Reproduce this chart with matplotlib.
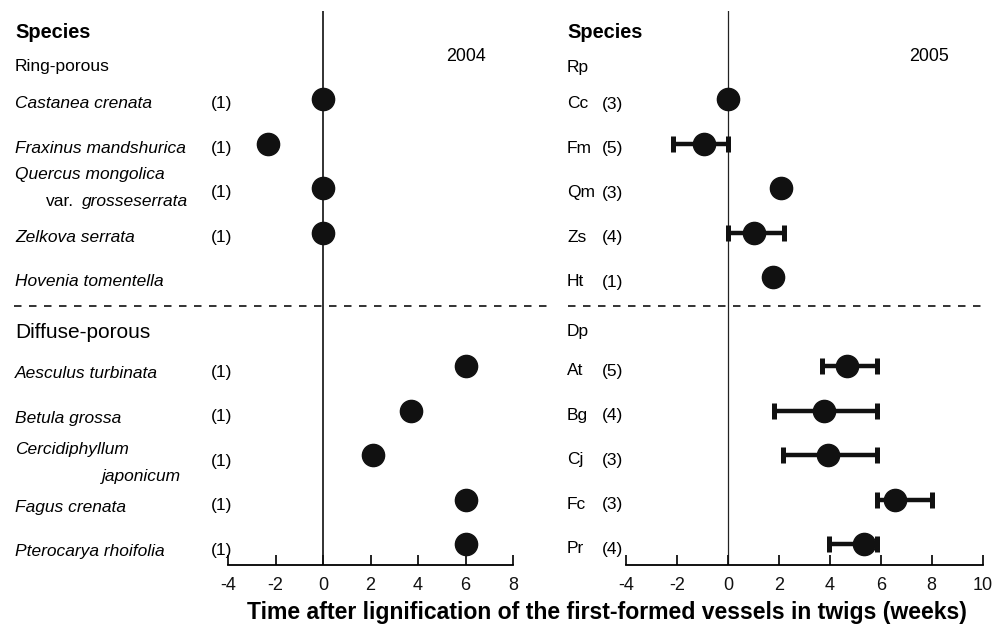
import numpy as np
import matplotlib
matplotlib.use("Agg")
import matplotlib.pyplot as plt
from matplotlib.transforms import blended_transform_factory

plt.rcParams["font.family"] = ["Liberation Sans", "DejaVu Sans"]
plt.rcParams["axes.unicode_minus"] = False

# --- data -------------------------------------------------------------
ring_names = ["Castanea crenata", "Fraxinus mandshurica", "Quercus mongolica",
              "Zelkova serrata", "Hovenia tomentella"]
diffuse_names = ["Aesculus turbinata", "Betula grossa", "Cercidiphyllum",
                 "Fagus crenata", "Pterocarya rhoifolia"]
ring_abbr = ["Cc", "Fm", "Qm", "Zs", "Ht"]
diffuse_abbr = ["At", "Bg", "Cj", "Fc", "Pr"]

ring_rows = [1, 2, 3, 4, 5]
diffuse_rows = [7, 8, 9, 10, 11]

# 2004 (n = 1 each; Hovenia not measured)
n_2004_ring = ["(1)", "(1)", "(1)", "(1)", ""]
n_2004_diff = ["(1)", "(1)", "(1)", "(1)", "(1)"]
val_2004_ring = [0.0, -2.3, 0.0, 0.0, np.nan]
val_2004_diff = [6.0, 3.7, 2.1, 6.0, 6.0]

# 2005 means with ranges
n_2005_ring = ["(3)", "(5)", "(3)", "(4)", "(1)"]
n_2005_diff = ["(5)", "(4)", "(3)", "(3)", "(4)"]
val_2005_ring = [0.0, -0.93, 2.1, 1.02, 1.78]
lo_2005_ring = [0.0, -2.15, 2.1, 0.0, 1.78]
hi_2005_ring = [0.0, 0.0, 2.1, 2.2, 1.78]
val_2005_diff = [4.66, 3.78, 3.94, 6.56, 5.34]
lo_2005_diff = [3.68, 1.8, 2.15, 5.84, 3.97]
hi_2005_diff = [5.86, 5.86, 5.86, 8.02, 5.86]

# --- figure -----------------------------------------------------------
W, H = 992, 627
fig = plt.figure(figsize=(W / 100, H / 100), dpi=100)

ylim = (11.47, -0.98)
ax1 = fig.add_axes([228 / W, 1 - 565 / H, 285 / W, 554 / H])
ax2 = fig.add_axes([626 / W, 1 - 565 / H, 356.7 / W, 554 / H])

ax1.set_xlim(-4, 8)
ax2.set_xlim(-4, 10)

for ax, ticks in ((ax1, range(-4, 9, 2)), (ax2, range(-4, 11, 2))):
    ax.set_ylim(*ylim)
    for s in ("top", "right", "left"):
        ax.spines[s].set_visible(False)
    ax.spines["bottom"].set_linewidth(1.3)
    ax.set_yticks([])
    ax.set_xticks(list(ticks))
    ax.tick_params(axis="x", direction="in", length=7, width=1.3,
                   labelsize=13, pad=9, colors="#111111")
    ax.axvline(0, color="#222222", lw=1.3 if ax is ax1 else 0.9, zorder=1)

mk = dict(marker="o", ms=16, color="#111111", ls="none", zorder=3)

# 2004 points
ax1.plot(val_2004_ring, ring_rows, **mk)
ax1.plot(val_2004_diff, diffuse_rows, **mk)

# 2005 points with range bars
for vals, lo, hi, rows in ((val_2005_ring, lo_2005_ring, hi_2005_ring, ring_rows),
                           (val_2005_diff, lo_2005_diff, hi_2005_diff, diffuse_rows)):
    vals = np.array(vals)
    err = np.array([vals - np.array(lo), np.array(hi) - vals])
    has = (err.sum(axis=0) > 0)
    ax2.errorbar(vals[has], np.array(rows)[has], xerr=err[:, has], fmt="none",
                 ecolor="#111111", elinewidth=3.2, capsize=6, capthick=3.6, zorder=2)
    ax2.plot(vals, rows, **mk)

# --- text -------------------------------------------------------------
t1 = blended_transform_factory(fig.transFigure, ax1.transData)
fs = 12.5
fig.text(15 / W, 1 - 33 / H, "Species", fontsize=14.4, fontweight="bold", va="center")
fig.text(567 / W, 1 - 33 / H, "Species", fontsize=14.4, fontweight="bold", va="center")
ax1.text(15 / W, 0.26, "Ring-porous", transform=t1, fontsize=fs, va="center")
ax1.text(15 / W, 6.24, "Diffuse-porous", transform=t1, fontsize=15, va="center")
ax1.text(0.835, 0.05, "2004", transform=blended_transform_factory(ax1.transAxes, ax1.transData),
         fontsize=12.9, va="center", ha="center")
ax2.text(0.85, 0.05, "2005", transform=blended_transform_factory(ax2.transAxes, ax2.transData),
         fontsize=12.9, va="center", ha="center")

for names, rows, off in ((ring_names, ring_rows, 0.1), (diffuse_names, diffuse_rows, 0.17)):
    for name, r in zip(names, rows):
        if name == "Quercus mongolica":
            ax1.text(15 / W, r - 0.3, name, transform=t1, fontsize=fs, style="italic", va="center")
            ax1.text(46 / W, r + 0.3, "var.", transform=t1, fontsize=fs, va="center")
            ax1.text(82 / W, r + 0.3, "grosseserrata", transform=t1, fontsize=fs,
                     style="italic", va="center")
        elif name == "Cercidiphyllum":
            ax1.text(15 / W, r - 0.12, name, transform=t1, fontsize=fs, style="italic", va="center")
            ax1.text(102 / W, r + 0.47, "japonicum", transform=t1, fontsize=fs,
                     style="italic", va="center")
        else:
            ax1.text(15 / W, r + off, name, transform=t1, fontsize=fs, style="italic", va="center")

for ns, rows, off in ((n_2004_ring, ring_rows, 0.1), (n_2004_diff, diffuse_rows, 0.14)):
    for n, r in zip(ns, rows):
        ax1.text(211 / W, r + off, n, transform=t1, fontsize=fs, va="center")

ax2.text(567 / W, 0.28, "Rp", transform=t1, fontsize=fs, va="center")
ax2.text(567 / W, 6.22, "Dp", transform=t1, fontsize=fs, va="center")
for ab, ns, rows in ((ring_abbr, n_2005_ring, ring_rows), (diffuse_abbr, n_2005_diff, diffuse_rows)):
    for a, n, r in zip(ab, ns, rows):
        ax2.text(567 / W, r + 0.1, a, transform=t1, fontsize=fs, va="center")
        ax2.text(602 / W, r + 0.12, n, transform=t1, fontsize=fs, va="center")

# separator between ring- and diffuse-porous
dash_y = 5.64
ax1.plot([14 / W, 552 / W], [dash_y, dash_y], transform=t1, color="#111111",
         lw=1.2, ls=(0, (4.5, 4.5)), clip_on=False)
ax2.plot([568 / W, 982 / W], [dash_y, dash_y], transform=t1, color="#111111",
         lw=1.2, ls=(0, (4.5, 4.5)), clip_on=False)

fig.text(607 / W, 1 - 613 / H,
         "Time after lignification of the first-formed vessels in twigs (weeks)",
         fontsize=16.6, fontweight="bold", ha="center", va="center")

fig.savefig("out.png", dpi=100)
